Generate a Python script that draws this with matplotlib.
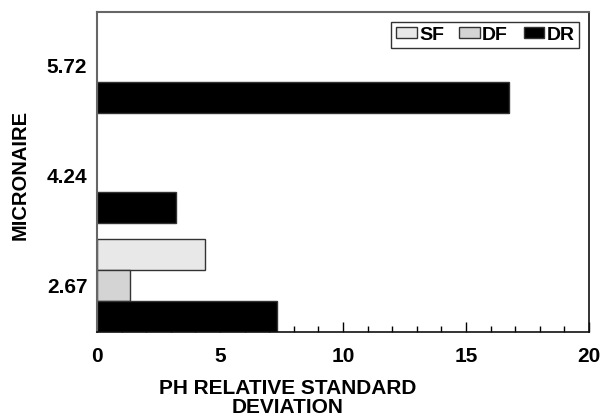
import numpy as np
import matplotlib
matplotlib.use("Agg")
import matplotlib.pyplot as plt
from matplotlib.ticker import MultipleLocator

plt.rcParams['font.family'] = ['Liberation Sans', 'DejaVu Sans']
plt.rcParams['font.weight'] = 'bold'

# Data
micronaire = ['2.67', '4.24', '5.72']
sf_values = [4.39, 0, 0]
df_values = [1.35, 0, 0]
dr_values = [7.30, 3.22, 16.73]

series = [('SF', sf_values, '#e8e8e8'),
          ('DF', df_values, '#d4d4d4'),
          ('DR', dr_values, '#000000')]

fig = plt.figure(figsize=(6.04, 4.19), dpi=100)
ax = fig.add_axes([97 / 604, 87 / 419, 492 / 604, 320 / 419])

y = np.arange(len(micronaire))
h = 0.285
offsets = [h, 0, -h]
for (name, vals, col), off in zip(series, offsets):
    vals = np.array(vals)
    mask = vals > 0
    ax.barh(y[mask] + off, vals[mask], height=h, color=col,
            edgecolor='#333333', linewidth=1, label=name)

ax.set_xlim(0, 20)
ax.set_ylim(-0.42, 2.49)
ax.set_xticks([0, 5, 10, 15, 20])
ax.xaxis.set_minor_locator(MultipleLocator(1))
ax.set_yticks(y)
ax.set_yticklabels(micronaire)
ax.tick_params(axis='x', which='major', direction='in', length=7, width=1,
               labelsize=15, pad=11)
ax.tick_params(axis='x', which='minor', direction='in', length=4, width=1)
ax.tick_params(axis='y', length=0, labelsize=15, pad=7)

ax.set_xlabel('PH RELATIVE STANDARD\nDEVIATION', fontsize=15,
              fontweight='bold', linespacing=0.95)
ax.xaxis.set_label_coords(0.388, -0.148)
ax.set_ylabel('MICRONAIRE', fontsize=14.5, fontweight='bold')
ax.yaxis.set_label_coords(-0.136, 0.49)

for side in ['left', 'top']:
    ax.spines[side].set_color('#666666')
    ax.spines[side].set_linewidth(1.5)
for side in ['right', 'bottom']:
    ax.spines[side].set_color('#111111')
    ax.spines[side].set_linewidth(1.2)

leg = ax.legend(loc='upper right', ncol=3, fontsize=14, frameon=True,
                fancybox=False, edgecolor='black', borderaxespad=0.5,
                handlelength=1.05, handleheight=0.5, handletextpad=0.12,
                columnspacing=0.8, borderpad=0.25)
leg.get_frame().set_linewidth(1)

fig.savefig('out.png', dpi=100)
